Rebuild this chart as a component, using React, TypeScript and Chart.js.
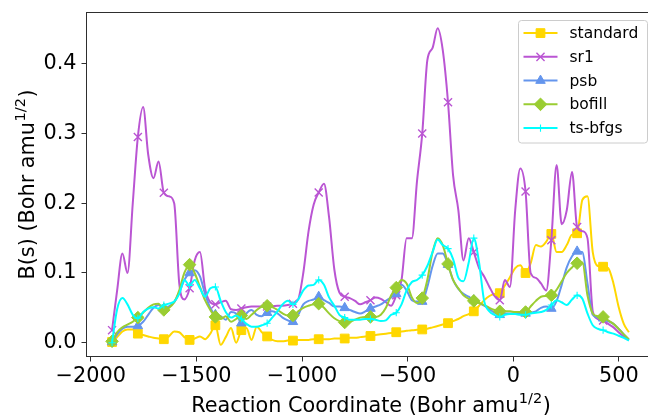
import React, { useEffect, useRef } from 'react';
import { Chart, registerables } from 'chart.js';
import { drawPoint } from 'chart.js/helpers';

Chart.register(...registerables);

// Reaction coordinate (Bohr amu^1/2)
const XS = [
  -1899, -1875, -1850, -1826, -1801, -1777, -1752, -1728, -1703, -1679,
  -1654, -1630, -1605, -1581, -1557, -1532, -1508, -1483, -1459, -1434,
  -1410, -1385, -1361, -1336, -1312, -1287, -1263, -1239, -1214, -1190,
  -1165, -1141, -1116, -1092, -1067, -1043, -1018, -994, -969, -945,
  -921, -896, -872, -847, -823, -798, -774, -749, -725, -700,
  -676, -652, -627, -603, -578, -554, -529, -505, -480, -456,
  -431, -407, -382, -358, -334, -309, -285, -260, -236, -211,
  -187, -162, -138, -113, -89, -64, -40, -16, 9, 33,
  58, 82, 107, 131, 156, 180, 205, 229, 253, 278,
  302, 327, 351, 376, 400, 425, 449, 474, 498, 523,
  547,
];

const STANDARD = [
  0.001, 0.008, 0.016, 0.019, 0.019, 0.013, 0.011, 0.009, 0.007, 0.006,
  0.005, 0.009, 0.016, 0.015, 0.008, 0.004, 0.006, 0.009, 0.005, 0.013,
  0.025, -0.003, 0.008, 0.021, 0.0, 0.018, 0.021, 0.004, 0.023, 0.015,
  0.009, 0.004, 0.002, 0.002, 0.003, 0.003, 0.004, 0.004, 0.004, 0.005,
  0.005, 0.005, 0.005, 0.006, 0.006, 0.006, 0.007, 0.007, 0.008, 0.009,
  0.0096, 0.011, 0.012, 0.013, 0.014, 0.015, 0.016, 0.017, 0.018, 0.0185,
  0.019, 0.02, 0.022, 0.024, 0.026, 0.028, 0.031, 0.034, 0.038, 0.041,
  0.045, 0.053, 0.061, 0.067, 0.07, 0.071, 0.082, 0.094, 0.107, 0.111,
  0.1, 0.114, 0.14, 0.138, 0.145, 0.156, 0.13, 0.13, 0.14, 0.155,
  0.157, 0.205, 0.21, 0.13, 0.11, 0.109, 0.107, 0.085, 0.052, 0.027,
  0.015,
];

const SR1 = [
  0.018, 0.075, 0.128, 0.1, 0.2, 0.295, 0.338, 0.27, 0.236, 0.26,
  0.215, 0.21, 0.2, 0.085, 0.062, 0.078, 0.118, 0.13, 0.078, 0.058,
  0.055, 0.058, 0.06, 0.048, 0.047, 0.049, 0.051, 0.052, 0.052, 0.052,
  0.052, 0.052, 0.053, 0.053, 0.054, 0.056, 0.062, 0.1, 0.16, 0.198,
  0.2155, 0.228, 0.18, 0.105, 0.072, 0.066, 0.064, 0.06, 0.055, 0.058,
  0.061, 0.065, 0.063, 0.058, 0.053, 0.068, 0.09, 0.15, 0.15, 0.231,
  0.3, 0.405, 0.423, 0.451, 0.42, 0.345, 0.24, 0.19, 0.118, 0.15,
  0.13, 0.107, 0.095, 0.08, 0.067, 0.061, 0.09, 0.08, 0.19, 0.25,
  0.217, 0.1, 0.093, 0.085, 0.075, 0.147, 0.255, 0.17, 0.19, 0.245,
  0.166, 0.16, 0.15, 0.045, 0.034, 0.032, 0.027, 0.022, 0.015, 0.009,
  0.004,
];

const PSB = [
  0.001, 0.012, 0.02, 0.023, 0.023, 0.024, 0.03, 0.04, 0.05, 0.054,
  0.049, 0.052, 0.058, 0.072, 0.09, 0.1, 0.104, 0.095, 0.07, 0.05,
  0.04, 0.038, 0.033, 0.044, 0.042, 0.028, 0.042, 0.047, 0.04, 0.038,
  0.043, 0.045, 0.042, 0.036, 0.032, 0.03, 0.04, 0.055, 0.06, 0.062,
  0.066, 0.061, 0.057, 0.052, 0.052, 0.05, 0.047, 0.044, 0.042, 0.045,
  0.049, 0.052, 0.055, 0.06, 0.065, 0.07, 0.083, 0.075, 0.061, 0.059,
  0.059, 0.08, 0.11, 0.128, 0.128, 0.112, 0.09, 0.077, 0.07, 0.066,
  0.061, 0.057, 0.053, 0.048, 0.043, 0.04, 0.042, 0.042, 0.042, 0.042,
  0.042, 0.043, 0.045, 0.05, 0.052, 0.049, 0.06, 0.083, 0.108, 0.124,
  0.131, 0.13, 0.085, 0.04, 0.036, 0.035, 0.031, 0.027, 0.02, 0.012,
  0.004,
];

const BOFILL = [
  0.002, 0.015, 0.022, 0.026, 0.03, 0.036, 0.043, 0.05, 0.055, 0.056,
  0.047, 0.05, 0.058, 0.075, 0.1, 0.112, 0.1, 0.08, 0.061, 0.047,
  0.037, 0.034, 0.038, 0.03, 0.034, 0.039, 0.034, 0.04, 0.047, 0.052,
  0.053, 0.051, 0.047, 0.042, 0.039, 0.039, 0.045, 0.05, 0.053, 0.055,
  0.056, 0.05, 0.042, 0.035, 0.031, 0.029, 0.03, 0.033, 0.036, 0.037,
  0.037, 0.037, 0.04, 0.05, 0.068, 0.079, 0.09, 0.085, 0.065, 0.057,
  0.064, 0.09, 0.13, 0.15, 0.14, 0.113, 0.09, 0.078, 0.068, 0.063,
  0.06, 0.057, 0.054, 0.05, 0.047, 0.045, 0.045, 0.045, 0.044, 0.044,
  0.044, 0.052, 0.06, 0.066, 0.067, 0.068, 0.076, 0.088, 0.1, 0.108,
  0.114, 0.115, 0.068, 0.042, 0.038, 0.037, 0.032, 0.027, 0.02, 0.012,
  0.005,
];

const TS_BFGS = [
  0.0, 0.048, 0.064, 0.055, 0.04, 0.035, 0.044, 0.049, 0.051, 0.049,
  0.054, 0.056, 0.059, 0.07, 0.09, 0.082, 0.09, 0.078, 0.066, 0.078,
  0.08, 0.06, 0.044, 0.036, 0.039, 0.034, 0.027, 0.023, 0.023, 0.025,
  0.028, 0.036, 0.045, 0.055, 0.06, 0.055, 0.062, 0.075, 0.082, 0.083,
  0.09, 0.083, 0.065, 0.053, 0.04, 0.036, 0.033, 0.033, 0.033, 0.034,
  0.034, 0.033, 0.031, 0.032, 0.04, 0.043, 0.055, 0.075, 0.087, 0.09,
  0.097, 0.11, 0.13, 0.148, 0.14, 0.135, 0.12, 0.093, 0.088, 0.115,
  0.15, 0.115, 0.06, 0.045, 0.04, 0.037, 0.04, 0.041, 0.041, 0.04,
  0.04, 0.042, 0.043, 0.044, 0.047, 0.054, 0.061, 0.058, 0.054, 0.062,
  0.068, 0.063, 0.042, 0.025, 0.02, 0.018, 0.015, 0.013, 0.01, 0.007,
  0.003,
];

const SERIES_NAMES = ['standard', 'sr1', 'psb', 'bofill', 'ts-bfgs'];
const SERIES_VALUES = [STANDARD, SR1, PSB, BOFILL, TS_BFGS];

const X_TICKS = [-2000, -1500, -1000, -500, 0, 500];
const Y_TICKS = [0.0, 0.1, 0.2, 0.3, 0.4];

const X_TITLE = ['Reaction Coordinate (Bohr amu', '1/2', ')'];
const Y_TITLE = ['B(s) (Bohr amu', '1/2', ')'];

// styling
const COLORS = ['#FFD700', '#BA55D3', '#6495ED', '#9ACD32', '#00FFFF'];
const POINT_STYLES = ['rect', 'crossRot', 'triangle', 'rectRot', 'cross'];
const POINT_RADII = [6.2, 5.7, 5.5, 6.3, 3.6];
const POINT_BORDERS = [1, 1.4, 1, 1, 1.1];
const MARK_EVERY = 5;

const FONT = "'DejaVu Sans', sans-serif";
const TICK_SIZE = 20.8;
const LEGEND_SIZE = 15.5;
const FRAME_COLOR = '#2e2e2e';

function drawSupTitle(ctx: CanvasRenderingContext2D, parts: string[], cx: number, baseY: number) {
  const mainFont = `${TICK_SIZE}px ${FONT}`;
  const supFont = `${(TICK_SIZE * 0.7).toFixed(2)}px ${FONT}`;
  ctx.font = mainFont;
  const w1 = ctx.measureText(parts[0]).width;
  const w3 = ctx.measureText(parts[2]).width;
  ctx.font = supFont;
  const w2 = ctx.measureText(parts[1]).width;
  const total = w1 + w2 + w3 + 1;
  let x = cx - total / 2;
  ctx.textAlign = 'left';
  ctx.textBaseline = 'alphabetic';
  ctx.fillStyle = '#000';
  ctx.font = mainFont;
  ctx.fillText(parts[0], x, baseY);
  x += w1 + 0.5;
  ctx.font = supFont;
  ctx.fillText(parts[1], x, baseY - 8.5);
  x += w2 + 0.5;
  ctx.font = mainFont;
  ctx.fillText(parts[2], x, baseY);
}

const decorPlugin = {
  id: 'decor',
  afterDatasetsDraw(chart: any) {
    const { ctx, chartArea: a } = chart;
    ctx.save();
    ctx.strokeStyle = FRAME_COLOR;
    ctx.lineWidth = 1;
    ctx.strokeRect(a.left, a.top, a.right - a.left, a.bottom - a.top);
    ctx.restore();
  },
  afterDraw(chart: any) {
    const { ctx, chartArea: a } = chart;
    ctx.save();
    // axis titles
    drawSupTitle(ctx, X_TITLE, (a.left + a.right) / 2, a.bottom + 55);
    ctx.save();
    ctx.translate(a.left - 53, (a.top + a.bottom) / 2);
    ctx.rotate(-Math.PI / 2);
    drawSupTitle(ctx, Y_TITLE, 0, 0);
    ctx.restore();

    // legend
    const lw = 129;
    const lh = 122.5;
    const lx = a.right - 8 - lw;
    const ly = a.top + 8;
    ctx.beginPath();
    ctx.roundRect(lx, ly, lw, lh, 3);
    ctx.fillStyle = 'rgba(255,255,255,0.8)';
    ctx.fill();
    ctx.strokeStyle = '#cccccc';
    ctx.lineWidth = 1;
    ctx.stroke();
    chart.data.datasets.forEach((ds: any, k: number) => {
      const ry = ly + 12.6 + k * 23.75;
      ctx.strokeStyle = ds.borderColor;
      ctx.lineWidth = 2;
      ctx.beginPath();
      ctx.moveTo(lx + 5, ry);
      ctx.lineTo(lx + 39, ry);
      ctx.stroke();
      ctx.fillStyle = ds.pointBackgroundColor;
      ctx.strokeStyle = ds.pointBorderColor;
      ctx.lineWidth = POINT_BORDERS[k];
      drawPoint(ctx, { pointStyle: POINT_STYLES[k], radius: POINT_RADII[k], rotation: 0, borderWidth: POINT_BORDERS[k] } as any, lx + 22, ry);
      ctx.fillStyle = '#000';
      ctx.font = `${LEGEND_SIZE}px ${FONT}`;
      ctx.textAlign = 'left';
      ctx.textBaseline = 'middle';
      ctx.fillText(ds.label, lx + 51, ry + 1);
    });
    ctx.restore();
  },
};

export default function App() {
  const ref = useRef<HTMLCanvasElement>(null);

  useEffect(() => {
    if (!ref.current) return;
    const datasets = SERIES_NAMES.map((name, k) => ({
      label: name,
      data: XS.map((x, i) => ({ x, y: SERIES_VALUES[k][i] })),
      borderColor: COLORS[k],
      backgroundColor: COLORS[k],
      pointBackgroundColor: COLORS[k],
      pointBorderColor: COLORS[k],
      borderWidth: 2,
      cubicInterpolationMode: 'monotone' as const,
      pointStyle: POINT_STYLES[k],
      pointBorderWidth: POINT_BORDERS[k],
      pointRadius: (c: any) => (c.dataIndex % MARK_EVERY === 0 && c.dataIndex < XS.length - 1 ? POINT_RADII[k] : 0),
      order: SERIES_NAMES.length - 1 - k,
      fill: false,
    }));

    const chart = new Chart(ref.current, {
      type: 'line',
      data: { datasets },
      plugins: [decorPlugin],
      options: {
        animation: false,
        responsive: false,
        maintainAspectRatio: false,
        devicePixelRatio: 1,
        events: [],
        layout: { padding: { left: 0, top: 12.5, right: 44.5, bottom: 0 } },
        plugins: { legend: { display: false }, tooltip: { enabled: false }, title: { display: false } },
        scales: {
          x: {
            type: 'linear',
            min: -2020,
            max: 673,
            afterFit: (s: any) => {
              s.height = 58.5;
              s.paddingLeft = 0; s.paddingRight = 0; s.paddingTop = 0; s.paddingBottom = 0;
            },
            afterBuildTicks: (s: any) => { s.ticks = X_TICKS.map((v) => ({ value: v })); },
            grid: { display: true, drawOnChartArea: false, drawTicks: true, tickLength: 5, tickColor: FRAME_COLOR, tickWidth: 1 },
            border: { display: false },
            ticks: {
              autoSkip: false,
              maxRotation: 0,
              padding: 3,
              color: '#000',
              font: { family: FONT, size: TICK_SIZE },
              callback: (v: any) => (v < 0 ? '\u2212' + Math.abs(v) : String(v)),
            },
          },
          y: {
            type: 'linear',
            min: -0.0198,
            max: 0.4737,
            afterFit: (s: any) => {
              s.width = 86.5;
              s.paddingLeft = 0; s.paddingRight = 0; s.paddingTop = 0; s.paddingBottom = 0;
            },
            afterBuildTicks: (s: any) => { s.ticks = Y_TICKS.map((v) => ({ value: v })); },
            grid: { display: true, drawOnChartArea: false, drawTicks: true, tickLength: 5, tickColor: FRAME_COLOR, tickWidth: 1 },
            border: { display: false },
            ticks: {
              padding: 5,
              color: '#000',
              font: { family: FONT, size: TICK_SIZE },
              callback: (v: any) => Number(v).toFixed(1),
            },
          },
        },
      },
    });
    return () => chart.destroy();
  }, []);

  return (
    <div style={{ position: 'fixed', left: 0, top: 0, width: 648, height: 415, overflow: 'hidden', background: '#fff' }}>
      <canvas ref={ref} width={700} height={415} style={{ display: 'block', width: 700, height: 415 }} />
    </div>
  );
}
